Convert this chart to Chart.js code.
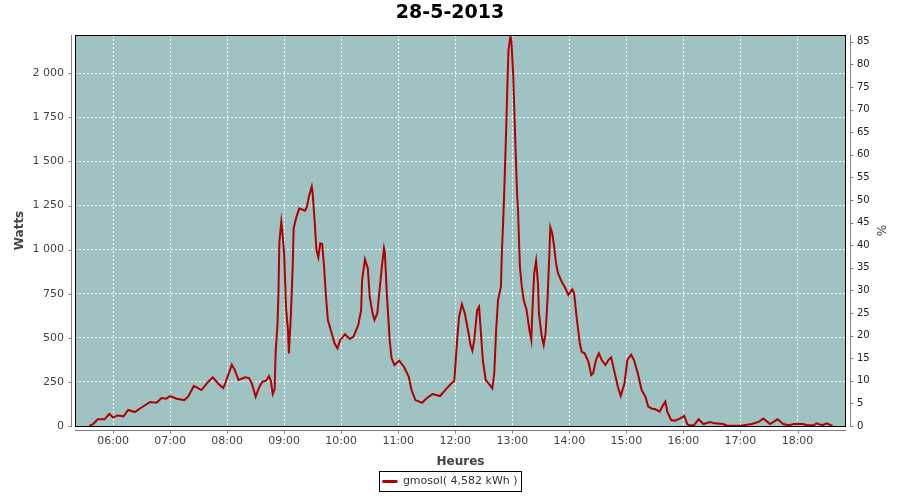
<!DOCTYPE html>
<html>
<head>
<meta charset="utf-8">
<script src="https://cdn.jsdelivr.net/npm/chart.js@4.4.1/dist/chart.umd.min.js"></script>
<style>
html, body { margin: 0; padding: 0; background: #fff; }
</style>
</head>
<body>
<canvas id="prod" width="900" height="500"></canvas>
<script>
// production du 28-5-2013
var times = ['05:35','05:39','05:44','05:51','05:56','06:00','06:05','06:11','06:16','06:23','06:28','06:39','06:46','06:51','06:56',
  '07:00','07:07','07:15','07:19','07:25','07:33','07:40','07:45','07:51','07:56','07:58',
  '08:05','08:08','08:12','08:19','08:23','08:26','08:30','08:34','08:37','08:41','08:44','08:46','08:48','08:50','08:51','08:53','08:54','08:55','08:57','08:58',
  '09:00','09:02','09:04','09:05','09:07','09:09','09:10','09:13','09:16','09:22','09:24','09:26','09:29','09:30','09:32','09:34','09:36','09:38','09:40','09:42','09:44','09:46','09:50','09:53','09:56','09:59',
  '10:04','10:09','10:13','10:18','10:21','10:22','10:25','10:28','10:30','10:33','10:35','10:38','10:40','10:43','10:45','10:46','10:48','10:51','10:53','10:56',
  '11:01','11:06','11:11','11:14','11:18','11:25','11:30','11:36','11:44','11:51','11:56','11:59',
  '12:00','12:02','12:04','12:07','12:10','12:14','12:16','12:18','12:20','12:23','12:25','12:27','12:29','12:32','12:35','12:39','12:41','12:43','12:45','12:48','12:49','12:51','12:53','12:55','12:56','12:58','12:59',
  '13:01','13:03','13:05','13:06','13:08','13:10','13:12','13:15','13:18','13:20','13:21','13:23','13:25','13:27','13:28','13:31','13:33','13:35','13:37','13:39','13:40','13:42','13:44','13:46','13:48','13:52','13:55','13:59',
  '14:03','14:05','14:08','14:11','14:13','14:16','14:20','14:23','14:25','14:28','14:31','14:34','14:38','14:41','14:44','14:47','14:51','14:54','14:58',
  '15:01','15:05','15:08','15:12','15:16','15:20','15:23','15:27','15:30','15:35','15:38','15:41','15:43','15:47','15:51','15:56',
  '16:01','16:04','16:06','16:11','16:16','16:21','16:28','16:33','16:42','16:46',
  '17:00','17:12','17:19','17:24','17:31','17:39','17:45','17:51','17:56',
  '18:06','18:10','18:17','18:20','18:26','18:31','18:35','18:37'];
var watts = [0,11,38,38,68,49,60,55,91,79,98,136,132,159,155,
  170,155,147,166,227,204,250,276,238,215,242,
  348,318,261,276,272,242,166,223,250,257,283,257,181,208,412,578,752,1045,1158,1110,
  979,667,544,412,620,903,1121,1187,1234,1221,1244,1300,1357,1319,1168,998,956,1036,1032,903,733,601,526,469,440,488,
  520,493,507,573,658,828,945,894,733,639,601,639,752,913,1008,979,752,488,384,346,
  370,336,280,204,147,132,157,181,170,213,242,257,
  336,488,620,690,639,526,459,427,488,658,677,526,374,261,242,213,299,544,714,790,979,1244,1584,1962,2132,2208,2189,
  1981,1641,1320,1225,903,790,714,658,544,488,639,866,937,809,639,507,459,526,714,979,1127,1093,1017,922,866,818,790,743,
  775,752,601,469,421,412,365,289,299,374,412,374,346,374,389,318,223,170,242,
  374,404,374,299,204,166,110,98,96,81,113,138,81,34,30,42,
  57,11,4,4,38,11,23,15,11,2,
  2,11,23,42,11,38,11,4,11,
  11,4,4,15,4,15,4,0];

var hourTicks = ['06:00','07:00','08:00','09:00','10:00','11:00','12:00','13:00','14:00','15:00','16:00','17:00','18:00'];
var wattTicks = [0, 250, 500, 750, 1000, 1250, 1500, 1750, 2000];
var pctTicks = [0, 5, 10, 15, 20, 25, 30, 35, 40, 45, 50, 55, 60, 65, 70, 75, 80, 85];
var timeRange = ['05:20', '18:51'];
var wattRange = [0, 2217];
var pctRange = [0, 86.5];

function toMin(t) {
  var p = t.split(':');
  return +p[0] * 60 + +p[1];
}
function hhmm(v) {
  var h = Math.floor(v / 60), m = Math.round(v % 60);
  return (h < 10 ? '0' : '') + h + ':' + (m < 10 ? '0' : '') + m;
}
function spaced(v) {
  return String(v).replace(/\B(?=(\d{3})+(?!\d))/g, ' ');
}

var points = times.map(function (t, i) { return { x: toMin(t), y: watts[i] }; });
var FONT = 'DejaVu Sans';

// fond du graphe, cadre, axes décalés et bordure de légende
var plotDeco = {
  id: 'plotDeco',
  beforeDraw: function (chart) {
    var a = chart.chartArea, ctx = chart.ctx;
    ctx.save();
    ctx.fillStyle = '#9ec3c2';
    ctx.fillRect(a.left, a.top, a.right - a.left, a.bottom - a.top);
    ctx.restore();
  },
  afterDraw: function (chart) {
    var a = chart.chartArea, ctx = chart.ctx;
    ctx.save();
    ctx.strokeStyle = '#000';
    ctx.lineWidth = 1;
    ctx.strokeRect(a.left + 0.5, a.top + 0.5, a.right - a.left - 1, a.bottom - a.top);

    ctx.strokeStyle = '#808080';
    ctx.beginPath();
    var lx = a.left - 4 + 0.5, rx = a.right + 4 + 0.5, by = a.bottom + 4 + 0.5;
    ctx.moveTo(lx, a.top); ctx.lineTo(lx, a.bottom + 1);
    ctx.moveTo(rx, a.top); ctx.lineTo(rx, a.bottom + 1);
    ctx.moveTo(a.left, by); ctx.lineTo(a.right, by);
    chart.scales.y.ticks.forEach(function (t) {
      var y = Math.round(chart.scales.y.getPixelForValue(t.value)) + 0.5;
      ctx.moveTo(lx - 3, y); ctx.lineTo(lx, y);
    });
    chart.scales.pct.ticks.forEach(function (t) {
      var y = Math.round(chart.scales.pct.getPixelForValue(t.value)) + 0.5;
      ctx.moveTo(rx, y); ctx.lineTo(rx + 3, y);
    });
    chart.scales.x.ticks.forEach(function (t) {
      var x = Math.round(chart.scales.x.getPixelForValue(t.value)) + 0.5;
      ctx.moveTo(x, by); ctx.lineTo(x, by + 3);
    });
    ctx.stroke();

    var hb = chart.legend.legendHitBoxes[0];
    if (hb) {
      ctx.strokeStyle = '#000';
      ctx.strokeRect(Math.round(hb.left) - 2.5, Math.round(hb.top) - 4.5, Math.round(hb.width) + 7, Math.round(hb.height) + 9);
    }
    ctx.restore();
  }
};

var prod = document.getElementById('prod').getContext('2d');
new Chart(prod, {
  type: 'line',
  data: {
    datasets: [{
      label: 'gmosol( 4,582 kWh )',
      data: points,
      borderColor: '#b00000',
      backgroundColor: '#b00000',
      borderWidth: 2,
      pointRadius: 0,
      tension: 0,
      fill: false
    }]
  },
  options: {
    responsive: false,
    animation: false,
    devicePixelRatio: 1,
    layout: { padding: { left: 0, right: 0, top: 0, bottom: 3 } },
    plugins: {
      title: {
        display: true,
        text: '28-5-2013',
        color: '#000',
        font: { family: FONT, size: 19, weight: 'bold' },
        padding: { top: 2, bottom: 10.2 }
      },
      legend: {
        position: 'bottom',
        labels: {
          boxWidth: 15,
          boxHeight: 3,
          color: '#333',
          padding: 6,
          font: { family: FONT, size: 11 },
          generateLabels: function (chart) {
            var items = Chart.defaults.plugins.legend.labels.generateLabels(chart);
            items.forEach(function (it) { it.lineWidth = 0; });
            return items;
          }
        }
      },
      tooltip: { enabled: false }
    },
    scales: {
      x: {
        type: 'linear',
        min: toMin(timeRange[0]),
        max: toMin(timeRange[1]),
        afterBuildTicks: function (s) { s.ticks = hourTicks.map(function (t) { return { value: toMin(t) }; }); },
        afterFit: function (s) { s.height = 500 - 426 - s.chart.legend.height - 3; },
        grid: { color: '#ffffff', lineWidth: 1, drawTicks: false },
        border: { display: false, dash: [2, 2] },
        ticks: {
          padding: 9,
          color: '#444',
          font: { family: FONT, size: 11 },
          maxRotation: 0,
          autoSkip: false,
          callback: function (v) { return hhmm(v); }
        },
        title: { display: true, text: 'Heures', color: '#444', font: { family: FONT, size: 12, weight: 'bold' }, padding: { top: 4, bottom: 1 } }
      },
      y: {
        position: 'left',
        min: wattRange[0],
        max: wattRange[1],
        afterBuildTicks: function (s) { s.ticks = wattTicks.map(function (v) { return { value: v }; }); },
        afterFit: function (s) { s.width = 75; },
        grid: { color: '#ffffff', lineWidth: 1, drawTicks: false },
        border: { display: false, dash: [2, 2] },
        ticks: {
          padding: 11,
          color: '#444',
          font: { family: FONT, size: 11 },
          callback: function (v) { return spaced(v); }
        },
        title: { display: true, text: 'Watts', color: '#444', font: { family: FONT, size: 12, weight: 'bold' }, padding: { top: 13, bottom: 0 } }
      },
      pct: {
        position: 'right',
        display: true,
        min: pctRange[0],
        max: pctRange[1],
        afterBuildTicks: function (s) { s.ticks = pctTicks.map(function (v) { return { value: v }; }); },
        afterFit: function (s) { s.width = 54; },
        grid: { display: false, drawTicks: false },
        border: { display: false },
        ticks: {
          padding: 11,
          color: '#222',
          font: { family: FONT, size: 10 }
        },
        title: { display: true, text: '%', color: '#444', font: { family: FONT, size: 12 }, padding: { top: 13, bottom: 0 } }
      }
    }
  },
  plugins: [plotDeco]
});
</script>
</body>
</html>
